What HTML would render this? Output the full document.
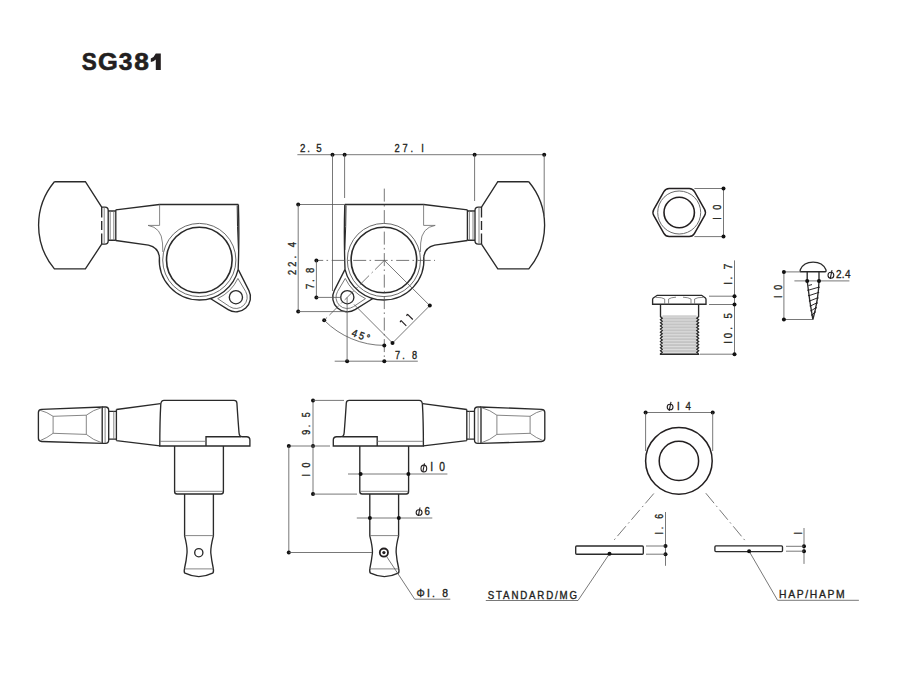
<!DOCTYPE html>
<html><head><meta charset="utf-8"><style>
html,body{margin:0;padding:0;background:#fff;}
svg{display:block;}
</style></head><body>
<svg width="900" height="675" viewBox="0 0 900 675">
<rect width="900" height="675" fill="#fff"/>
<g><path d="M54.4,181.7 L85.4,181.7 L101.7,207.1 M101.7,244.1 L85.4,268.9 L54.4,268.9 A68,68 0 0 1 54.4,181.7" stroke="#2a2a2a" stroke-width="1.35" fill="none"/>
<path d="M101.7,207.1 V217.5 M101.7,221 V230 M101.7,233.5 V244.1" stroke="#2a2a2a" stroke-width="1.35" fill="none"/>
<path d="M101.7,207.1 H105 Q108.2,207.1 108.2,210.5 V240.7 Q108.2,244.1 105,244.1 H101.7" stroke="#2a2a2a" stroke-width="1.35" fill="none"/>
<line x1="104.2" y1="207.5" x2="104.2" y2="243.7" stroke="#707070" stroke-width="0.85" fill="none"/>
<path d="M108.2,211 H115.8 M108.2,240.2 H115.8" stroke="#2a2a2a" stroke-width="1.35" fill="none"/>
<path d="M110.2,211 V240.2 M113.8,211 V240.2" stroke="#707070" stroke-width="0.85" fill="none"/>
<path d="M115.8,209.8 L159.4,204.5 H238.4" stroke="#2a2a2a" stroke-width="1.35" fill="none"/>
<line x1="115.8" y1="209.8" x2="115.8" y2="240.5" stroke="#2a2a2a" stroke-width="1.35" fill="none"/>
<path d="M115.8,240.5 L148.5,245.2 Q158.3,247.5 159.4,256.9" stroke="#2a2a2a" stroke-width="1.35" fill="none"/>
<path d="M148,225.4 H159.6 V204.5" stroke="#707070" stroke-width="0.85" fill="none"/>
<path d="M148,225.4 Q161.5,227.5 162.5,243 L162.8,252" stroke="#707070" stroke-width="0.85" fill="none"/>
<circle cx="199.3" cy="260.0" r="36.6" stroke="#6a6a6a" stroke-width="1" fill="none"/>
<circle cx="199.3" cy="260.0" r="32.8" stroke="#2a2a2a" stroke-width="1.6" fill="none"/>
<path d="M159.42,256.86 A40,40 0 0 0 199.3,300 A40,40 0 0 0 238.19,269.34" stroke="#2a2a2a" stroke-width="1.35" fill="none"/>
<path d="M238.4,204.5 Q239.4,235 238.19,269.34" stroke="#2a2a2a" stroke-width="1.35" fill="none"/>
<path d="M237.2,205.5 Q237.2,225 238.4,250" stroke="#2a2a2a" stroke-width="1" fill="none"/>
<path d="M238.19,269.34 L248.93,290.62 A14.6,14.6 0 0 1 228.17,309.59 L210.33,298.45" stroke="#2a2a2a" stroke-width="1.35" fill="none"/>
<path d="M217.73,298.63 A42.8,42.8 0 0 0 237.93,278.43 L245.63,291.45 A11.3,11.3 0 0 1 229.61,306.59 Z" stroke="#6a6a6a" stroke-width="0.9" fill="none"/>
<circle cx="235.9" cy="297.2" r="6.6" stroke="#2a2a2a" stroke-width="1.35" fill="none"/></g>
<g transform="translate(583.2,0) scale(-1,1)"><path d="M54.4,181.7 L85.4,181.7 L101.7,207.1 M101.7,244.1 L85.4,268.9 L54.4,268.9 A68,68 0 0 1 54.4,181.7" stroke="#2a2a2a" stroke-width="1.35" fill="none"/>
<path d="M101.7,207.1 V217.5 M101.7,221 V230 M101.7,233.5 V244.1" stroke="#2a2a2a" stroke-width="1.35" fill="none"/>
<path d="M101.7,207.1 H105 Q108.2,207.1 108.2,210.5 V240.7 Q108.2,244.1 105,244.1 H101.7" stroke="#2a2a2a" stroke-width="1.35" fill="none"/>
<line x1="104.2" y1="207.5" x2="104.2" y2="243.7" stroke="#707070" stroke-width="0.85" fill="none"/>
<path d="M108.2,211 H115.8 M108.2,240.2 H115.8" stroke="#2a2a2a" stroke-width="1.35" fill="none"/>
<path d="M110.2,211 V240.2 M113.8,211 V240.2" stroke="#707070" stroke-width="0.85" fill="none"/>
<path d="M115.8,209.8 L159.4,204.5 H238.4" stroke="#2a2a2a" stroke-width="1.35" fill="none"/>
<line x1="115.8" y1="209.8" x2="115.8" y2="240.5" stroke="#2a2a2a" stroke-width="1.35" fill="none"/>
<path d="M115.8,240.5 L148.5,245.2 Q158.3,247.5 159.4,256.9" stroke="#2a2a2a" stroke-width="1.35" fill="none"/>
<path d="M148,225.4 H159.6 V204.5" stroke="#707070" stroke-width="0.85" fill="none"/>
<path d="M148,225.4 Q161.5,227.5 162.5,243 L162.8,252" stroke="#707070" stroke-width="0.85" fill="none"/>
<circle cx="199.3" cy="260.0" r="36.6" stroke="#6a6a6a" stroke-width="1" fill="none"/>
<circle cx="199.3" cy="260.0" r="32.8" stroke="#2a2a2a" stroke-width="1.6" fill="none"/>
<path d="M159.42,256.86 A40,40 0 0 0 199.3,300 A40,40 0 0 0 238.19,269.34" stroke="#2a2a2a" stroke-width="1.35" fill="none"/>
<path d="M238.4,204.5 Q239.4,235 238.19,269.34" stroke="#2a2a2a" stroke-width="1.35" fill="none"/>
<path d="M237.2,205.5 Q237.2,225 238.4,250" stroke="#2a2a2a" stroke-width="1" fill="none"/>
<path d="M238.19,269.34 L248.93,290.62 A14.6,14.6 0 0 1 228.17,309.59 L210.33,298.45" stroke="#2a2a2a" stroke-width="1.35" fill="none"/>
<path d="M217.73,298.63 A42.8,42.8 0 0 0 237.93,278.43 L245.63,291.45 A11.3,11.3 0 0 1 229.61,306.59 Z" stroke="#6a6a6a" stroke-width="0.9" fill="none"/>
<circle cx="235.9" cy="297.2" r="6.6" stroke="#2a2a2a" stroke-width="1.35" fill="none"/></g>
<g><path d="M41.6,409.3 L102.2,407 V443.4 L41.6,441.5 Q38.4,441.4 38.4,438.3 V412.5 Q38.4,409.4 41.6,409.3 Z" stroke="#2a2a2a" stroke-width="1.35" fill="none"/>
<path d="M53.1,416.3 L86.3,415.2 L86.3,434.4 L53.1,433.3 Z" stroke="#707070" stroke-width="0.85" fill="none"/>
<path d="M53.1,416.3 Q47,412 40.2,410.3 M86.3,415.2 Q93,410 101.8,407.6 M86.3,434.4 Q93,440 101.8,442.8 M53.1,433.3 Q47,438 40.2,440.6" stroke="#707070" stroke-width="0.85" fill="none"/>
<path d="M102.2,407 H105.5 Q108.7,407 108.7,410.5 V440 Q108.7,443.4 105.5,443.4 H102.2" stroke="#2a2a2a" stroke-width="1.35" fill="none"/>
<line x1="105.1" y1="407.3" x2="105.1" y2="443.1" stroke="#707070" stroke-width="0.85" fill="none"/>
<path d="M108.7,411.4 H116.4 M108.7,439.1 H116.4" stroke="#2a2a2a" stroke-width="1.35" fill="none"/>
<line x1="113.8" y1="411.4" x2="113.8" y2="439.1" stroke="#707070" stroke-width="0.85" fill="none"/>
<path d="M116.4,409.5 L160.5,403.6 M116.4,440.6 L160,445.8 M116.4,409.5 V440.6" stroke="#2a2a2a" stroke-width="1.35" fill="none"/>
<path d="M159.8,446 Q159.8,420 160.8,404 Q161.2,400.3 164,400.3 H234 Q236.7,400.3 236.9,403 Q238,420 239,432.5 Q239.3,436.7 242,436.7 H246.5 Q249.9,436.7 249.9,440 V446 H159.8 Z" stroke="#2a2a2a" stroke-width="1.35" fill="none"/>
<path d="M206,446 V436.7 H241" stroke="#2a2a2a" stroke-width="1.35" fill="none"/>
<line x1="160" y1="441.3" x2="206" y2="441.3" stroke="#707070" stroke-width="0.85" fill="none"/>
<path d="M174.6,446 V491.5 Q174.6,494 177,494 H221 Q223.4,494 223.4,491.5 V446" stroke="#2a2a2a" stroke-width="1.35" fill="none"/>
<line x1="175" y1="491.3" x2="223" y2="491.3" stroke="#707070" stroke-width="0.85" fill="none"/>
<path d="M184.6,494 V535.8 Q187.5,547 187,553 Q186.5,560 184.4,569 M213.4,494 V535.8 Q210.5,547 210.8,553 Q211.5,560 213.4,569" stroke="#2a2a2a" stroke-width="1.35" fill="none"/>
<line x1="184.6" y1="535.6" x2="213.4" y2="535.6" stroke="#707070" stroke-width="0.85" fill="none"/>
<line x1="184.5" y1="568.9" x2="213.4" y2="568.9" stroke="#707070" stroke-width="0.85" fill="none"/>
<path d="M184.4,569 Q183.8,572.5 185,573.2 Q198.8,580 212.6,573.2 Q213.8,572.5 213.4,569" stroke="#2a2a2a" stroke-width="1.35" fill="none"/></g>
<g transform="translate(583.2,0) scale(-1,1)"><path d="M41.6,409.3 L102.2,407 V443.4 L41.6,441.5 Q38.4,441.4 38.4,438.3 V412.5 Q38.4,409.4 41.6,409.3 Z" stroke="#2a2a2a" stroke-width="1.35" fill="none"/>
<path d="M53.1,416.3 L86.3,415.2 L86.3,434.4 L53.1,433.3 Z" stroke="#707070" stroke-width="0.85" fill="none"/>
<path d="M53.1,416.3 Q47,412 40.2,410.3 M86.3,415.2 Q93,410 101.8,407.6 M86.3,434.4 Q93,440 101.8,442.8 M53.1,433.3 Q47,438 40.2,440.6" stroke="#707070" stroke-width="0.85" fill="none"/>
<path d="M102.2,407 H105.5 Q108.7,407 108.7,410.5 V440 Q108.7,443.4 105.5,443.4 H102.2" stroke="#2a2a2a" stroke-width="1.35" fill="none"/>
<line x1="105.1" y1="407.3" x2="105.1" y2="443.1" stroke="#707070" stroke-width="0.85" fill="none"/>
<path d="M108.7,411.4 H116.4 M108.7,439.1 H116.4" stroke="#2a2a2a" stroke-width="1.35" fill="none"/>
<line x1="113.8" y1="411.4" x2="113.8" y2="439.1" stroke="#707070" stroke-width="0.85" fill="none"/>
<path d="M116.4,409.5 L160.5,403.6 M116.4,440.6 L160,445.8 M116.4,409.5 V440.6" stroke="#2a2a2a" stroke-width="1.35" fill="none"/>
<path d="M159.8,446 Q159.8,420 160.8,404 Q161.2,400.3 164,400.3 H234 Q236.7,400.3 236.9,403 Q238,420 239,432.5 Q239.3,436.7 242,436.7 H246.5 Q249.9,436.7 249.9,440 V446 H159.8 Z" stroke="#2a2a2a" stroke-width="1.35" fill="none"/>
<path d="M206,446 V436.7 H241" stroke="#2a2a2a" stroke-width="1.35" fill="none"/>
<line x1="160" y1="441.3" x2="206" y2="441.3" stroke="#707070" stroke-width="0.85" fill="none"/>
<path d="M174.6,446 V491.5 Q174.6,494 177,494 H221 Q223.4,494 223.4,491.5 V446" stroke="#2a2a2a" stroke-width="1.35" fill="none"/>
<line x1="175" y1="491.3" x2="223" y2="491.3" stroke="#707070" stroke-width="0.85" fill="none"/>
<path d="M184.6,494 V535.8 Q187.5,547 187,553 Q186.5,560 184.4,569 M213.4,494 V535.8 Q210.5,547 210.8,553 Q211.5,560 213.4,569" stroke="#2a2a2a" stroke-width="1.35" fill="none"/>
<line x1="184.6" y1="535.6" x2="213.4" y2="535.6" stroke="#707070" stroke-width="0.85" fill="none"/>
<line x1="184.5" y1="568.9" x2="213.4" y2="568.9" stroke="#707070" stroke-width="0.85" fill="none"/>
<path d="M184.4,569 Q183.8,572.5 185,573.2 Q198.8,580 212.6,573.2 Q213.8,572.5 213.4,569" stroke="#2a2a2a" stroke-width="1.35" fill="none"/></g>
<circle cx="198.8" cy="552.7" r="4.1" stroke="#2a2a2a" stroke-width="1.35" fill="none"/>
<circle cx="383.9" cy="552.6" r="4.1" stroke="#231f20" stroke-width="1.8" fill="none"/>
<circle cx="383.9" cy="552.6" r="1.6" fill="#231f20"/>
<line x1="297.4" y1="154.7" x2="544.2" y2="154.7" stroke="#555" stroke-width="0.8" fill="none" />
<circle cx="332.5" cy="154.7" r="2.0" fill="#111"/>
<circle cx="344.6" cy="154.7" r="2.0" fill="#111"/>
<circle cx="474.6" cy="154.7" r="2.0" fill="#111"/>
<circle cx="544.2" cy="154.7" r="2.0" fill="#111"/>
<line x1="332.5" y1="154.7" x2="332.5" y2="291" stroke="#555" stroke-width="0.8" fill="none" />
<line x1="344.6" y1="154.7" x2="344.6" y2="198" stroke="#555" stroke-width="0.8" fill="none" />
<line x1="474.6" y1="154.7" x2="474.6" y2="201" stroke="#555" stroke-width="0.8" fill="none" />
<line x1="544.2" y1="154.7" x2="544.2" y2="216" stroke="#555" stroke-width="0.8" fill="none" />
<line x1="298.2" y1="204.5" x2="344.6" y2="204.5" stroke="#555" stroke-width="0.8" fill="none" />
<circle cx="298.2" cy="204.5" r="2.0" fill="#111"/>
<line x1="298.2" y1="204.5" x2="298.2" y2="311.6" stroke="#555" stroke-width="0.8" fill="none" />
<circle cx="298.2" cy="311.6" r="2.0" fill="#111"/>
<line x1="298.2" y1="311.6" x2="346" y2="311.6" stroke="#555" stroke-width="0.8" fill="none" />
<line x1="316.4" y1="260.4" x2="435" y2="260.4" stroke="#555" stroke-width="0.8" fill="none" stroke-dasharray="13,3.3,1.6,3.6" stroke-dashoffset="6.2"/>
<circle cx="316.4" cy="260.4" r="2.0" fill="#111"/>
<line x1="316.4" y1="260.4" x2="316.4" y2="297.4" stroke="#555" stroke-width="0.8" fill="none" />
<circle cx="316.4" cy="297.4" r="2.0" fill="#111"/>
<line x1="316.4" y1="297.4" x2="341" y2="297.4" stroke="#555" stroke-width="0.8" fill="none" />
<line x1="384.3" y1="188.6" x2="384.3" y2="361.2" stroke="#555" stroke-width="0.8" fill="none" stroke-dasharray="13,3.3,1.6,3.6"/>
<line x1="384.3" y1="260.4" x2="324.2" y2="320.3" stroke="#555" stroke-width="0.8" fill="none" stroke-dasharray="13,3.3,1.6,3.6"/>
<circle cx="324.2" cy="320.3" r="2.0" fill="#111"/>
<path d="M324.2,320.3 A85,85 0 0 0 384.3,345.4" stroke="#555" stroke-width="0.8" fill="none"/>
<circle cx="384.3" cy="345.4" r="2.0" fill="#111"/>
<line x1="384.3" y1="260.4" x2="429.8" y2="305.6" stroke="#555" stroke-width="0.8" fill="none" />
<line x1="354" y1="304.4" x2="392.5" y2="343" stroke="#555" stroke-width="0.8" fill="none" />
<line x1="392.5" y1="343" x2="429.8" y2="305.6" stroke="#555" stroke-width="0.8" fill="none" />
<circle cx="392.5" cy="343" r="2.0" fill="#111"/>
<circle cx="429.8" cy="305.6" r="2.0" fill="#111"/>
<line x1="334.7" y1="361.2" x2="417.8" y2="361.2" stroke="#555" stroke-width="0.8" fill="none" />
<circle cx="347.1" cy="361.2" r="2.0" fill="#111"/>
<circle cx="384.3" cy="361.2" r="2.0" fill="#111"/>
<line x1="347.1" y1="297.5" x2="347.1" y2="361.2" stroke="#555" stroke-width="0.8" fill="none" />
<line x1="313" y1="400.4" x2="313" y2="446" stroke="#555" stroke-width="0.8" fill="none" />
<circle cx="313" cy="400.4" r="2.0" fill="#111"/>
<circle cx="313" cy="446" r="2.0" fill="#111"/>
<line x1="313" y1="400.4" x2="344" y2="400.4" stroke="#555" stroke-width="0.8" fill="none" />
<line x1="288.8" y1="446" x2="330" y2="446" stroke="#555" stroke-width="0.8" fill="none" />
<circle cx="288.8" cy="446" r="2.0" fill="#111"/>
<line x1="288.8" y1="446" x2="288.8" y2="552.5" stroke="#555" stroke-width="0.8" fill="none" />
<circle cx="288.8" cy="552.5" r="2.0" fill="#111"/>
<line x1="288.8" y1="552.5" x2="372" y2="552.5" stroke="#555" stroke-width="0.8" fill="none" />
<line x1="313" y1="446" x2="313" y2="494.1" stroke="#555" stroke-width="0.8" fill="none" />
<circle cx="313" cy="494.1" r="2.0" fill="#111"/>
<line x1="313" y1="494.1" x2="357" y2="494.1" stroke="#555" stroke-width="0.8" fill="none" />
<line x1="348" y1="474" x2="447.4" y2="474" stroke="#555" stroke-width="0.8" fill="none" />
<circle cx="360.6" cy="474" r="2.0" fill="#111"/>
<circle cx="408.4" cy="474" r="2.0" fill="#111"/>
<line x1="356.8" y1="518" x2="432.3" y2="518" stroke="#555" stroke-width="0.8" fill="none" />
<circle cx="369.9" cy="518" r="2.0" fill="#111"/>
<circle cx="398.8" cy="518" r="2.0" fill="#111"/>
<line x1="386.7" y1="556.6" x2="414.7" y2="599.2" stroke="#555" stroke-width="0.8" fill="none" />
<line x1="414.7" y1="599.2" x2="450.3" y2="599.2" stroke="#555" stroke-width="0.8" fill="none" />
<path d="M704.57,209.37 Q706.33,212.5 704.57,215.63 L694.53,233.47 Q692.77,236.6 689.24,236.6 L669.16,236.6 Q665.63,236.6 663.87,233.47 L653.83,215.63 Q652.07,212.5 653.83,209.37 L663.87,191.53 Q665.63,188.4 669.16,188.4 L689.24,188.4 Q692.77,188.4 694.53,191.53 Z" stroke="#231f20" stroke-width="1.5" fill="none"/>
<circle cx="679.2" cy="212.5" r="21.5" stroke="#6a6a6a" stroke-width="1" fill="none"/>
<circle cx="679.2" cy="212.5" r="15.2" stroke="#231f20" stroke-width="1.6" fill="none"/>
<line x1="694.4" y1="188.5" x2="723.5" y2="188.5" stroke="#555" stroke-width="0.8" fill="none" />
<line x1="694.4" y1="236.6" x2="723.5" y2="236.6" stroke="#555" stroke-width="0.8" fill="none" />
<line x1="723.5" y1="188.5" x2="723.5" y2="236.6" stroke="#555" stroke-width="0.8" fill="none" />
<circle cx="723.5" cy="188.5" r="2.0" fill="#111"/>
<circle cx="723.5" cy="236.6" r="2.0" fill="#111"/>
<rect x="662.4" y="315.4" width="34.2" height="38.8" fill="#c4c4c4"/>
<rect x="662.4" y="316.5" width="34.2" height="1.1" fill="#dcdcdc"/>
<rect x="662.4" y="319.45" width="34.2" height="1.1" fill="#dcdcdc"/>
<rect x="662.4" y="322.4" width="34.2" height="1.1" fill="#dcdcdc"/>
<rect x="662.4" y="325.35" width="34.2" height="1.1" fill="#dcdcdc"/>
<rect x="662.4" y="328.3" width="34.2" height="1.1" fill="#dcdcdc"/>
<rect x="662.4" y="331.25" width="34.2" height="1.1" fill="#dcdcdc"/>
<rect x="662.4" y="334.2" width="34.2" height="1.1" fill="#dcdcdc"/>
<rect x="662.4" y="337.15" width="34.2" height="1.1" fill="#dcdcdc"/>
<rect x="662.4" y="340.1" width="34.2" height="1.1" fill="#dcdcdc"/>
<rect x="662.4" y="343.05" width="34.2" height="1.1" fill="#dcdcdc"/>
<rect x="662.4" y="346" width="34.2" height="1.1" fill="#dcdcdc"/>
<rect x="662.4" y="348.95" width="34.2" height="1.1" fill="#dcdcdc"/>
<rect x="662.4" y="351.9" width="34.2" height="1.1" fill="#dcdcdc"/>
<path d="M660.5,304.2 V316.6 L662.2,318.15 L660.5,319.71 L662.2,321.26 L660.5,322.82 L662.2,324.37 L660.5,325.93 L662.2,327.48 L660.5,329.03 L662.2,330.59 L660.5,332.14 L662.2,333.7 L660.5,335.25 L662.2,336.8 L660.5,338.36 L662.2,339.91 L660.5,341.47 L662.2,343.02 L660.5,344.57 L662.2,346.13 L660.5,347.68 L662.2,349.24 L660.5,350.79 L662.2,352.35 L660.5,353.9 V354.3 H698.6 V353.9 " stroke="#2a2a2a" stroke-width="1.35" fill="none"/>
<path d="M698.6,304.2 V316.6 L696.8,318.15 L698.6,319.71 L696.8,321.26 L698.6,322.82 L696.8,324.37 L698.6,325.93 L696.8,327.48 L698.6,329.03 L696.8,330.59 L698.6,332.14 L696.8,333.7 L698.6,335.25 L696.8,336.8 L698.6,338.36 L696.8,339.91 L698.6,341.47 L696.8,343.02 L698.6,344.57 L696.8,346.13 L698.6,347.68 L696.8,349.24 L698.6,350.79 L696.8,352.35 L698.6,353.9" stroke="#2a2a2a" stroke-width="1.35" fill="none"/>
<path d="M660.5,354.3 H698.6" stroke="#2a2a2a" stroke-width="1.35" fill="none"/>
<path d="M657.2,295.3 H701.7 L705.4,298 Q706,298.6 706,299.6 V304.2 H652.6 V299.6 Q652.6,298.6 653.3,298 Z" stroke="#2a2a2a" stroke-width="1.35" fill="none"/>
<path d="M664.7,299 V304.2 M668.6,299 V304.2 M691,299 V304.2 M694.6,299 V304.2 M655.5,297.3 Q662.5,297.3 664.7,299 M668.6,299 Q671,297.4 676,297.2 M691,299 Q688.5,297.4 683,297.2 M694.6,299 Q697,297.3 703.3,297.3" stroke="#707070" stroke-width="0.85" fill="none"/>
<line x1="734.5" y1="260.4" x2="734.5" y2="354.3" stroke="#555" stroke-width="0.8" fill="none" />
<line x1="709" y1="296.2" x2="734.5" y2="296.2" stroke="#555" stroke-width="0.8" fill="none" />
<line x1="709" y1="304.5" x2="734.5" y2="304.5" stroke="#555" stroke-width="0.8" fill="none" />
<line x1="700" y1="354.2" x2="734.5" y2="354.2" stroke="#555" stroke-width="0.8" fill="none" />
<circle cx="734.5" cy="296.2" r="2.0" fill="#111"/>
<circle cx="734.5" cy="304.5" r="2.0" fill="#111"/>
<circle cx="734.5" cy="354.2" r="2.0" fill="#111"/>
<path d="M801.2,271.7 Q799.6,271.7 800.4,269.6 Q803.5,262.1 813.1,262.1 Q822.7,262.1 825.8,269.6 Q826.6,271.7 825,271.7 Z" stroke="#2a2a2a" stroke-width="1.35" fill="none"/>
<path d="M807.2,271.7 V281 Q809.5,301 812.9,319.6 C815.5,310 818.6,297 819,281 V271.7" stroke="#2a2a2a" stroke-width="1.35" fill="none"/>
<line x1="808.36" y1="290.2" x2="818.71" y2="287.2" stroke="#231f20" stroke-width="0.95" fill="none"/>
<circle cx="808.06" cy="290.2" r="0.75" fill="#231f20"/>
<circle cx="819.01" cy="287.2" r="0.75" fill="#231f20"/>
<line x1="809.1" y1="295.6" x2="818.23" y2="292.6" stroke="#231f20" stroke-width="0.95" fill="none"/>
<circle cx="808.8" cy="295.6" r="0.75" fill="#231f20"/>
<circle cx="818.53" cy="292.6" r="0.75" fill="#231f20"/>
<line x1="809.86" y1="300.9" x2="817.55" y2="297.9" stroke="#231f20" stroke-width="0.95" fill="none"/>
<circle cx="809.56" cy="300.9" r="0.75" fill="#231f20"/>
<circle cx="817.85" cy="297.9" r="0.75" fill="#231f20"/>
<line x1="810.63" y1="305.9" x2="816.74" y2="302.9" stroke="#231f20" stroke-width="0.95" fill="none"/>
<circle cx="810.33" cy="305.9" r="0.75" fill="#231f20"/>
<circle cx="817.04" cy="302.9" r="0.75" fill="#231f20"/>
<line x1="811.39" y1="310.7" x2="815.8" y2="307.7" stroke="#231f20" stroke-width="0.95" fill="none"/>
<circle cx="811.09" cy="310.7" r="0.75" fill="#231f20"/>
<circle cx="816.1" cy="307.7" r="0.75" fill="#231f20"/>
<line x1="812.11" y1="315" x2="814.84" y2="312" stroke="#231f20" stroke-width="0.95" fill="none"/>
<circle cx="811.81" cy="315" r="0.75" fill="#231f20"/>
<circle cx="815.14" cy="312" r="0.75" fill="#231f20"/>
<line x1="808.5" y1="285.5" x2="812" y2="284.6" stroke="#231f20" stroke-width="0.95" fill="none"/>
<line x1="783.9" y1="271.9" x2="801" y2="271.9" stroke="#555" stroke-width="0.8" fill="none" />
<line x1="783.9" y1="319.5" x2="813" y2="319.5" stroke="#555" stroke-width="0.8" fill="none" />
<line x1="783.9" y1="271.9" x2="783.9" y2="319.5" stroke="#555" stroke-width="0.8" fill="none" />
<circle cx="783.9" cy="271.9" r="2.0" fill="#111"/>
<circle cx="783.9" cy="319.5" r="2.0" fill="#111"/>
<line x1="794.4" y1="280.9" x2="849.4" y2="280.9" stroke="#555" stroke-width="0.8" fill="none" />
<circle cx="807.2" cy="280.9" r="2.0" fill="#111"/>
<circle cx="819" cy="280.9" r="2.0" fill="#111"/>
<circle cx="678.9" cy="460.9" r="33.3" stroke="#231f20" stroke-width="1.5" fill="none"/>
<circle cx="678.9" cy="460.9" r="19.7" stroke="#231f20" stroke-width="1.5" fill="none"/>
<line x1="645.6" y1="412.5" x2="712.7" y2="412.5" stroke="#555" stroke-width="0.8" fill="none" />
<circle cx="645.6" cy="412.5" r="2.0" fill="#111"/>
<circle cx="712.7" cy="412.5" r="2.0" fill="#111"/>
<line x1="645.6" y1="412.5" x2="645.6" y2="451" stroke="#555" stroke-width="0.8" fill="none" />
<line x1="712.7" y1="412.5" x2="712.7" y2="451" stroke="#555" stroke-width="0.8" fill="none" />
<line x1="653.8" y1="493.5" x2="613" y2="541.3" stroke="#555" stroke-width="0.8" fill="none" stroke-dasharray="13,3.3,1.6,3.6"/>
<line x1="705.8" y1="493.2" x2="746" y2="541.7" stroke="#555" stroke-width="0.8" fill="none" stroke-dasharray="13,3.3,1.6,3.6"/>
<rect x="575.7" y="546" width="67.6" height="8.2" rx="1" stroke="#2a2a2a" stroke-width="1.35" fill="none"/>
<rect x="714.9" y="545.9" width="67.6" height="5.7" rx="1" stroke="#2a2a2a" stroke-width="1.35" fill="none"/>
<line x1="609.5" y1="553.7" x2="578" y2="600.5" stroke="#555" stroke-width="0.8" fill="none" />
<line x1="578" y1="600.5" x2="485.8" y2="600.5" stroke="#555" stroke-width="0.8" fill="none" />
<circle cx="609.5" cy="553.7" r="2.0" fill="#111"/>
<line x1="665.5" y1="512" x2="665.5" y2="565.8" stroke="#555" stroke-width="0.8" fill="none" />
<circle cx="665.5" cy="546" r="2.0" fill="#111"/>
<circle cx="665.5" cy="554.2" r="2.0" fill="#111"/>
<line x1="646" y1="546" x2="665.5" y2="546" stroke="#555" stroke-width="0.8" fill="none" />
<line x1="646" y1="554.2" x2="665.5" y2="554.2" stroke="#555" stroke-width="0.8" fill="none" />
<line x1="749.1" y1="551.2" x2="777.6" y2="600.3" stroke="#555" stroke-width="0.8" fill="none" />
<line x1="777.6" y1="600.3" x2="858.9" y2="600.3" stroke="#555" stroke-width="0.8" fill="none" />
<circle cx="749.1" cy="551.2" r="2.0" fill="#111"/>
<line x1="804" y1="528" x2="804" y2="563.9" stroke="#555" stroke-width="0.8" fill="none" />
<circle cx="804" cy="546.3" r="2.0" fill="#111"/>
<circle cx="804" cy="551.2" r="2.0" fill="#111"/>
<line x1="786" y1="546.3" x2="804" y2="546.3" stroke="#555" stroke-width="0.8" fill="none" />
<line x1="786" y1="551.2" x2="804" y2="551.2" stroke="#555" stroke-width="0.8" fill="none" />
<text transform="translate(300,152) scale(0.85,1)" x="0" y="0" font-size="11.42" textLength="25.59" lengthAdjust="spacing" font-family="Liberation Sans, sans-serif" fill="#231f20" stroke="#231f20" stroke-width="0.35">2. 5</text>
<text transform="translate(394.5,152) scale(0.85,1)" x="0" y="0" font-size="10.93" textLength="34.41" lengthAdjust="spacing" font-family="Liberation Sans, sans-serif" fill="#231f20" stroke="#231f20" stroke-width="0.35">27. I</text>
<text transform="translate(296,275) rotate(-90) scale(0.85,1)" x="0" y="0" font-size="10.9" textLength="38.82" lengthAdjust="spacing" font-family="Liberation Sans, sans-serif" fill="#231f20" stroke="#231f20" stroke-width="0.35">22. 4</text>
<text transform="translate(314,289) rotate(-90) scale(0.85,1)" x="0" y="0" font-size="11.17" textLength="25" lengthAdjust="spacing" font-family="Liberation Sans, sans-serif" fill="#231f20" stroke="#231f20" stroke-width="0.35">7. 8</text>
<text transform="translate(395,358.5) scale(0.85,1)" x="0" y="0" font-size="10.79" textLength="25.88" lengthAdjust="spacing" font-family="Liberation Sans, sans-serif" fill="#231f20" stroke="#231f20" stroke-width="0.35">7. 8</text>
<text transform="translate(720.75,219.75) rotate(-90) scale(0.85,1)" x="0" y="0" font-size="10.72" textLength="17.65" lengthAdjust="spacing" font-family="Liberation Sans, sans-serif" fill="#231f20" stroke="#231f20" stroke-width="0.35">I0</text>
<text transform="translate(732.25,284.75) rotate(-90) scale(0.85,1)" x="0" y="0" font-size="11.67" textLength="24.71" lengthAdjust="spacing" font-family="Liberation Sans, sans-serif" fill="#231f20" stroke="#231f20" stroke-width="0.35">I. 7</text>
<text transform="translate(732.25,343.75) rotate(-90) scale(0.85,1)" x="0" y="0" font-size="11.32" textLength="35.88" lengthAdjust="spacing" font-family="Liberation Sans, sans-serif" fill="#231f20" stroke="#231f20" stroke-width="0.35">I0. 5</text>
<text transform="translate(781.5,298) rotate(-90) scale(0.85,1)" x="0" y="0" font-size="10.52" textLength="15.59" lengthAdjust="spacing" font-family="Liberation Sans, sans-serif" fill="#231f20" stroke="#231f20" stroke-width="0.35">I0</text>
<text transform="translate(835.95,278.45) scale(0.85,1)" x="0" y="0" font-size="11.72" textLength="17.06" lengthAdjust="spacing" font-family="Liberation Sans, sans-serif" fill="#231f20" stroke="#231f20" stroke-width="0.35">2.4</text>
<text transform="translate(310.25,434.75) rotate(-90) scale(0.85,1)" x="0" y="0" font-size="10.4" textLength="26.47" lengthAdjust="spacing" font-family="Liberation Sans, sans-serif" fill="#231f20" stroke="#231f20" stroke-width="0.35">9. 5</text>
<text transform="translate(310.25,476.5) rotate(-90) scale(0.85,1)" x="0" y="0" font-size="10.4" textLength="16.47" lengthAdjust="spacing" font-family="Liberation Sans, sans-serif" fill="#231f20" stroke="#231f20" stroke-width="0.35">I0</text>
<text transform="translate(430.15,471.45) scale(0.85,1)" x="0" y="0" font-size="12.06" textLength="17.53" lengthAdjust="spacing" font-family="Liberation Sans, sans-serif" fill="#231f20" stroke="#231f20" stroke-width="0.35">I0</text>
<text transform="translate(424.6,515.25) scale(0.85,1)" x="0" y="0" font-size="11.38" textLength="1.59" lengthAdjust="spacing" font-family="Liberation Sans, sans-serif" fill="#231f20" stroke="#231f20" stroke-width="0.35">6</text>
<text transform="translate(416.5,596.75) scale(0.95,1)" x="0" y="0" font-size="10.9" textLength="33.16" lengthAdjust="spacing" font-family="Liberation Sans, sans-serif" fill="#231f20" stroke="#231f20" stroke-width="0.35">ΦI. 8</text>
<text transform="translate(677.05,409.75) scale(0.85,1)" x="0" y="0" font-size="11.4" textLength="16.18" lengthAdjust="spacing" font-family="Liberation Sans, sans-serif" fill="#231f20" stroke="#231f20" stroke-width="0.35">I4</text>
<text transform="translate(487.75,598.5) scale(0.95,1)" x="0" y="0" font-size="10.2" textLength="93.95" lengthAdjust="spacing" font-family="Liberation Sans, sans-serif" fill="#231f20" stroke="#231f20" stroke-width="0.35">STANDARD/MG</text>
<text transform="translate(779,597.75) scale(0.95,1)" x="0" y="0" font-size="10.9" textLength="69.21" lengthAdjust="spacing" font-family="Liberation Sans, sans-serif" fill="#231f20" stroke="#231f20" stroke-width="0.35">HAP/HAPM</text>
<text transform="translate(662.5,534.5) rotate(-90) scale(0.85,1)" x="0" y="0" font-size="10.4" textLength="24.41" lengthAdjust="spacing" font-family="Liberation Sans, sans-serif" fill="#231f20" stroke="#231f20" stroke-width="0.35">I. 6</text>
<text transform="translate(801.75,534.5) rotate(-90) scale(0.85,1)" x="0" y="0" font-size="10.5" textLength="7.06" lengthAdjust="spacing" font-family="Liberation Sans, sans-serif" fill="#231f20" stroke="#231f20" stroke-width="0.35">I</text>
<g transform="translate(361.88,335.75) rotate(20) scale(0.9,1)"><text x="0" y="3.78" font-size="10.5" letter-spacing="2.2" text-anchor="middle" font-family="Liberation Sans, sans-serif" fill="#231f20" stroke="#231f20" stroke-width="0.35">45°</text></g>
<path d="M400.9,320.4 L406.3,325.8 M407.4,314.1 L412.8,319.5 M400.9,320.4 L400.1,322.2 M407.4,314.1 L406.6,315.9" stroke="#231f20" stroke-width="1.15" fill="none"/>
<ellipse cx="423.85" cy="468.5" rx="2.85" ry="3.4" stroke="#231f20" stroke-width="1.1" fill="none"/>
<line x1="424.5" y1="463.3" x2="422.8" y2="472" stroke="#231f20" stroke-width="1.1"/>
<ellipse cx="419.1" cy="512.5" rx="2.95" ry="2.8" stroke="#231f20" stroke-width="1.1" fill="none"/>
<line x1="420" y1="507.5" x2="418.4" y2="515.8" stroke="#231f20" stroke-width="1.1"/>
<ellipse cx="670.1" cy="407" rx="2.9" ry="2.8" stroke="#231f20" stroke-width="1.1" fill="none"/>
<line x1="671" y1="401.9" x2="669.2" y2="410.8" stroke="#231f20" stroke-width="1.1"/>
<ellipse cx="830.9" cy="275.2" rx="2.9" ry="3.0" stroke="#231f20" stroke-width="1.1" fill="none"/>
<line x1="832" y1="270.2" x2="830.2" y2="278.9" stroke="#231f20" stroke-width="1.1"/>
<text transform="translate(81.85,69.7) scale(0.943,1)" x="0" y="0" font-family="Liberation Sans, sans-serif" font-weight="bold" font-size="23.9" fill="#231f20" stroke="#231f20" stroke-width="0.6">S</text>
<text transform="translate(97.95,69.7) scale(1.066,1)" x="0" y="0" font-family="Liberation Sans, sans-serif" font-weight="bold" font-size="23.9" fill="#231f20" stroke="#231f20" stroke-width="0.6">G</text>
<text transform="translate(118.64,69.7) scale(1.027,1)" x="0" y="0" font-family="Liberation Sans, sans-serif" font-weight="bold" font-size="23.9" fill="#231f20" stroke="#231f20" stroke-width="0.6">3</text>
<text transform="translate(134.16,69.7) scale(1.102,1)" x="0" y="0" font-family="Liberation Sans, sans-serif" font-weight="bold" font-size="23.9" fill="#231f20" stroke="#231f20" stroke-width="0.6">8</text>
<path d="M155.8,53.5 H160.8 V70.1 H155.8 V59.4 Q153.5,61.4 150.8,62.1 V58.6 Q154.2,57.2 155.8,53.5 Z" fill="#231f20"/>
</svg>
</body></html>
